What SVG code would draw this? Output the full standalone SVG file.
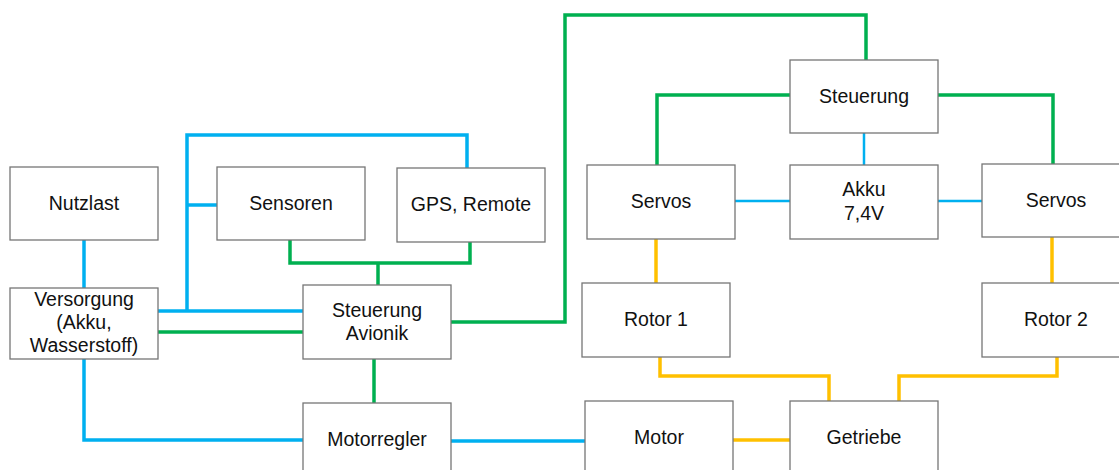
<svg xmlns="http://www.w3.org/2000/svg" width="1119" height="470" viewBox="0 0 1119 470">
<style>
.box{fill:#fff;stroke:#767676;stroke-width:1.3}
.t{font-family:"Liberation Sans",Arial,sans-serif;font-size:19.5px;fill:#111;text-anchor:middle}
.c{fill:none;stroke-linejoin:miter;stroke-linecap:butt}
.b{stroke:#00b0f0;stroke-width:3.5}
.bt{stroke:#00b0f0;stroke-width:2.5}
.g{stroke:#00b050;stroke-width:3.5}
.y{stroke:#ffc000;stroke-width:3.5}
</style>
<rect width="1119" height="470" fill="#fff"/>
<g id="connectors">
<path class="c b" d="M84 240 V288"/>
<path class="c b" d="M158 311 H303"/>
<path class="c b" d="M187 311 V135 H467 V168"/>
<path class="c b" d="M187 205 H217"/>
<path class="c b" d="M84 359 V440 H303"/>
<path class="c b" d="M451 441 H585"/>
<path class="c bt" d="M864 133 V165"/>
<path class="c bt" d="M735 201 H790"/>
<path class="c bt" d="M938 201 H982"/>
<path class="c g" d="M158 332 H303"/>
<path class="c g" d="M290 240 V263 H470 V242"/>
<path class="c g" d="M378 263 V285"/>
<path class="c g" d="M374 359 V403"/>
<path class="c g" d="M451 322 H565 V15 H866 V60"/>
<path class="c g" d="M790 95 H657 V165"/>
<path class="c g" d="M938 95 H1053 V164"/>
<path class="c y" d="M656 239 V283"/>
<path class="c y" d="M1052 237 V283"/>
<path class="c y" d="M660 357 V376 H829 V401"/>
<path class="c y" d="M1057 357 V376 H899 V401"/>
<path class="c y" d="M733 440 H790"/>
</g>
<g id="nutzlast"><rect class="box" x="10" y="167" width="148" height="73"/><text class="t" x="84" y="210">Nutzlast</text></g>
<g id="sensoren"><rect class="box" x="217" y="167" width="148" height="73"/><text class="t" x="291" y="210">Sensoren</text></g>
<g id="gps"><rect class="box" x="397" y="168" width="148" height="74"/><text class="t" x="471" y="211">GPS, Remote</text></g>
<g id="versorgung"><rect class="box" x="10" y="288" width="148" height="71"/><text class="t" x="84" y="305.5">Versorgung</text><text class="t" x="84" y="328.5">(Akku,</text><text class="t" x="84" y="351.5">Wasserstoff)</text></g>
<g id="steuerung-avionik"><rect class="box" x="303" y="285" width="148" height="74"/><text class="t" x="377" y="317">Steuerung</text><text class="t" x="377" y="340">Avionik</text></g>
<g id="motorregler"><rect class="box" x="303" y="403" width="148" height="75"/><text class="t" x="377" y="446">Motorregler</text></g>
<g id="steuerung"><rect class="box" x="790" y="60" width="148" height="73"/><text class="t" x="864" y="103">Steuerung</text></g>
<g id="servos-l"><rect class="box" x="587" y="165" width="148" height="74"/><text class="t" x="661" y="208">Servos</text></g>
<g id="akku"><rect class="box" x="790" y="165" width="148" height="74"/><text class="t" x="864" y="196">Akku</text><text class="t" x="864" y="220">7,4V</text></g>
<g id="servos-r"><rect class="box" x="982" y="164" width="148" height="73"/><text class="t" x="1056" y="207">Servos</text></g>
<g id="rotor1"><rect class="box" x="582" y="283" width="148" height="74"/><text class="t" x="656" y="326">Rotor 1</text></g>
<g id="rotor2"><rect class="box" x="982" y="283" width="148" height="74"/><text class="t" x="1056" y="326">Rotor 2</text></g>
<g id="motor"><rect class="box" x="585" y="401" width="148" height="75"/><text class="t" x="659" y="443.5">Motor</text></g>
<g id="getriebe"><rect class="box" x="790" y="401" width="148" height="75"/><text class="t" x="864" y="443.5">Getriebe</text></g>
</svg>
